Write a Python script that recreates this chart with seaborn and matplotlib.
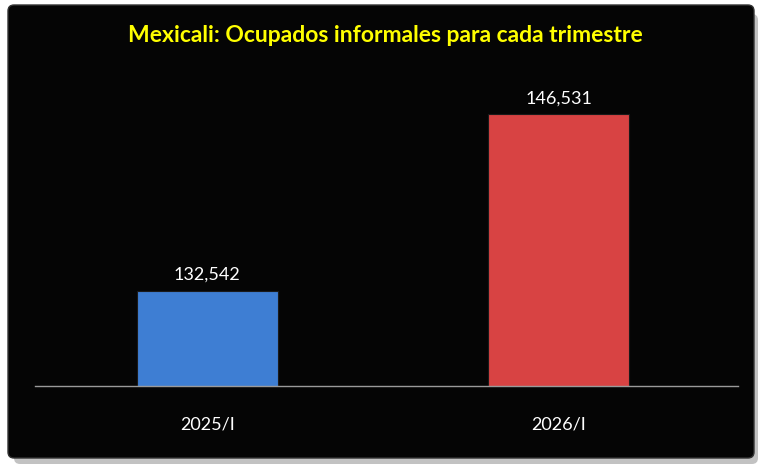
import matplotlib
matplotlib.use("Agg")
import matplotlib.pyplot as plt
import seaborn as sns
import pandas as pd
from matplotlib.patches import FancyBboxPatch

# datos
trimestres = ["2025/I", "2026/I"]
ocupados = [132542, 146531]
colores = ["#3E7ED3", "#D84343"]

df = pd.DataFrame({"trimestre": trimestres, "ocupados": ocupados})

sns.set_theme(style="dark")
plt.rcParams["font.family"] = ["Lato", "DejaVu Sans"]

fig = plt.figure(figsize=(7.7, 4.7), dpi=100)
fig.patch.set_facecolor("white")

# fondo: sombra y panel negro
bg = fig.add_axes([0, 0, 1, 1], zorder=0)
bg.set_xlim(0, 770)
bg.set_ylim(0, 470)
bg.axis("off")
bg.add_patch(FancyBboxPatch((14, 6), 744, 450,
                            boxstyle="round,pad=0,rounding_size=6",
                            facecolor="#9a9a9a", edgecolor="none", alpha=0.6))
bg.add_patch(FancyBboxPatch((8, 12), 746, 453,
                            boxstyle="round,pad=0,rounding_size=6",
                            facecolor="#050505", edgecolor="#333333",
                            linewidth=1.0))

ax = fig.add_axes([35 / 770, 84 / 470, 703 / 770, 316 / 470], zorder=2)
ax.set_facecolor("none")

sns.barplot(data=df, x="trimestre", y="ocupados", hue="trimestre",
            palette=colores, saturation=1, width=0.4, legend=False, ax=ax,
            edgecolor="#1a1a1a", linewidth=0.8)

ax.set_ylim(125000, 150000)
ax.set_xlim(-0.49, 1.51)

for p, v in zip(ax.patches, ocupados):
    ax.text(p.get_x() + p.get_width() / 2, v + 600, f"{v:,}",
            ha="center", va="bottom", color="white", fontsize=13)

ax.set_xlabel("")
ax.set_ylabel("")
ax.set_yticks([])
ax.tick_params(axis="x", colors="white", labelsize=13, length=0, pad=22)
for s in ["top", "right", "left"]:
    ax.spines[s].set_visible(False)
ax.spines["bottom"].set_visible(True)
ax.spines["bottom"].set_color("#9a9a9a")
ax.spines["bottom"].set_linewidth(1.0)
ax.grid(False)

fig.text(0.5, 434 / 470, "Mexicali: Ocupados informales para cada trimestre",
         ha="center", va="center", color="#FFFF00", fontsize=16.5,
         fontweight="bold", zorder=3)

fig.savefig("out.png", dpi=100, facecolor=fig.get_facecolor())
